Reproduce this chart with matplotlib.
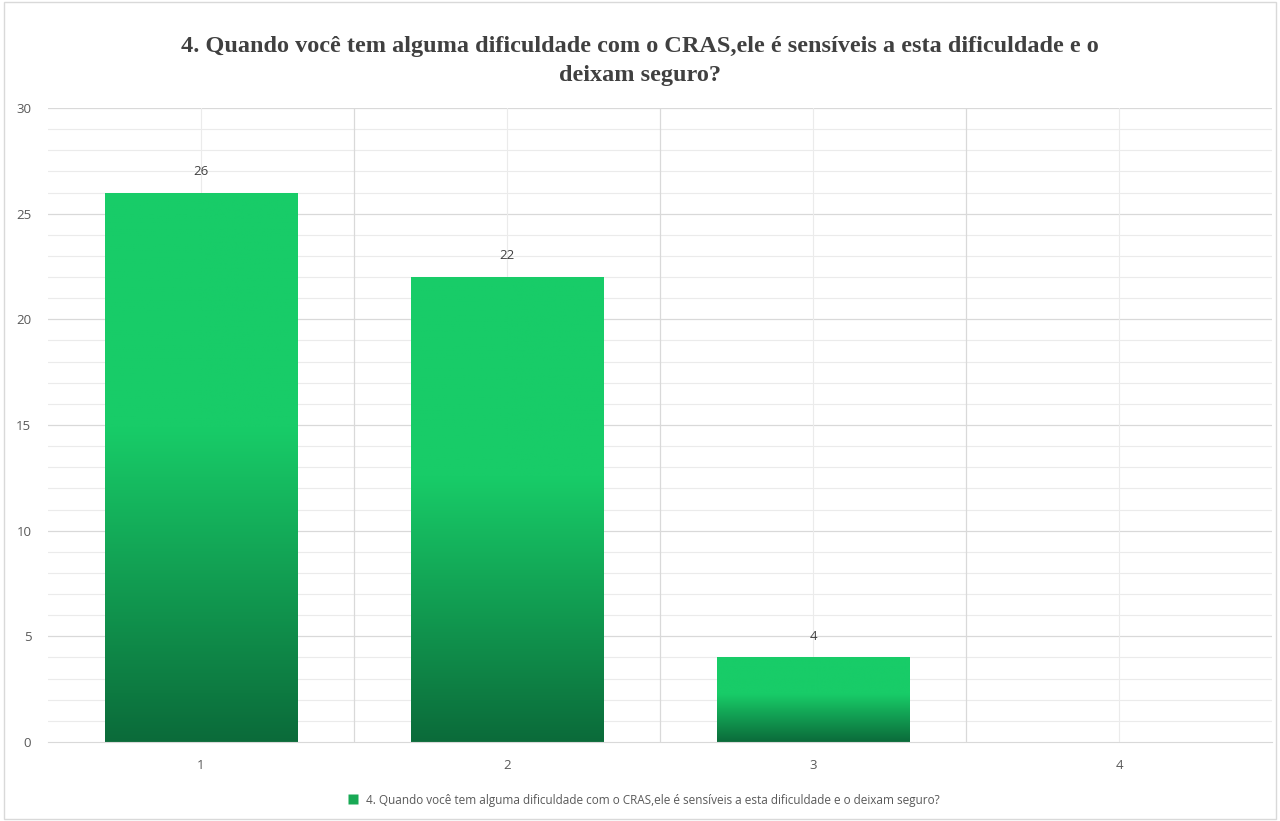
import matplotlib
matplotlib.use("Agg")
import matplotlib.pyplot as plt
import numpy as np
from matplotlib.colors import LinearSegmentedColormap
from matplotlib.patches import Rectangle
from matplotlib.lines import Line2D

categories = ["1", "2", "3", "4"]
values = [26, 22, 4, 0]
series_name = "4. Quando você tem alguma dificuldade com o CRAS,ele é sensíveis a esta dificuldade e o deixam seguro?"
title = "4. Quando você tem alguma dificuldade com o CRAS,ele é sensíveis a esta dificuldade e o\ndeixam seguro?"

fig = plt.figure(figsize=(12.8, 8.21), dpi=100)
ax = fig.add_axes([48/1280, 1-742/821, (1272-48)/1280, (742-108)/821])

x = np.arange(len(categories))

# gridlines
for yv in np.arange(1, 30, 1):
    if yv % 5:
        ax.axhline(yv, color="#ebebeb", lw=0.8, zorder=0)
for yv in np.arange(5, 31, 5):
    ax.axhline(yv, color="#d9d9d9", lw=0.9, zorder=0)
for xv in x:
    ax.axvline(xv, color="#ebebeb", lw=0.8, zorder=0)
for xv in x[:-1] + 0.5:
    ax.axvline(xv, color="#d9d9d9", lw=0.9, zorder=0)

cmap = LinearSegmentedColormap.from_list("g", [(0, "#0b6b3a"), (0.57, "#18cc68"), (1.0, "#18cc68")])
grad = np.linspace(0, 1, 256).reshape(-1, 1)
width = 0.63
bars = ax.bar(x, values, width=width, color="none", edgecolor="none", zorder=2)
for b, v in zip(bars, values):
    if v <= 0:
        continue
    x0 = b.get_x()
    im = ax.imshow(grad, cmap=cmap, origin="lower", aspect="auto",
                   extent=[x0, x0 + width, 0, v], zorder=2)
    im.set_clip_path(b)
    ax.text(b.get_x() + width / 2, v + 0.7, f"{v}", ha="center", va="bottom",
            fontsize=9.5, color="#404040", family="Open Sans")
ax.set_xlim(-0.5, len(categories) - 0.5)
ax.set_ylim(0, 30)

ax.set_xticks(x)
ax.set_xticklabels(categories, fontsize=9.5, color="#595959", family="Open Sans")
ax.set_yticks(np.arange(0, 31, 5))
ax.set_yticklabels([str(v) for v in range(0, 31, 5)], fontsize=9.5, color="#595959", family="Open Sans")
ax.tick_params(length=0, pad=12)
for s in ["top", "right", "left"]:
    ax.spines[s].set_visible(False)
ax.spines["bottom"].set_color("#d9d9d9")

fig.text(0.5, 1 - 61/821, title, ha="center", va="center", fontsize=17.5,
         fontweight="bold", family="Liberation Serif", color="#404040", linespacing=1.55)

handle = Line2D([], [], marker="s", color="none", markerfacecolor="#18a955",
                markeredgecolor="none", markersize=7)
fig.legend([handle], [series_name], loc="center", bbox_to_anchor=(0.5, 1 - 800/821),
           frameon=False, prop={"family": "Open Sans", "size": 8.5}, handletextpad=0.1,
           labelcolor="#595959")

fig.patches.append(Rectangle((0.003, 0.003), 0.994, 0.994, transform=fig.transFigure,
                             fill=False, edgecolor="#d9d9d9", lw=1))
fig.savefig("out.png", dpi=100)
